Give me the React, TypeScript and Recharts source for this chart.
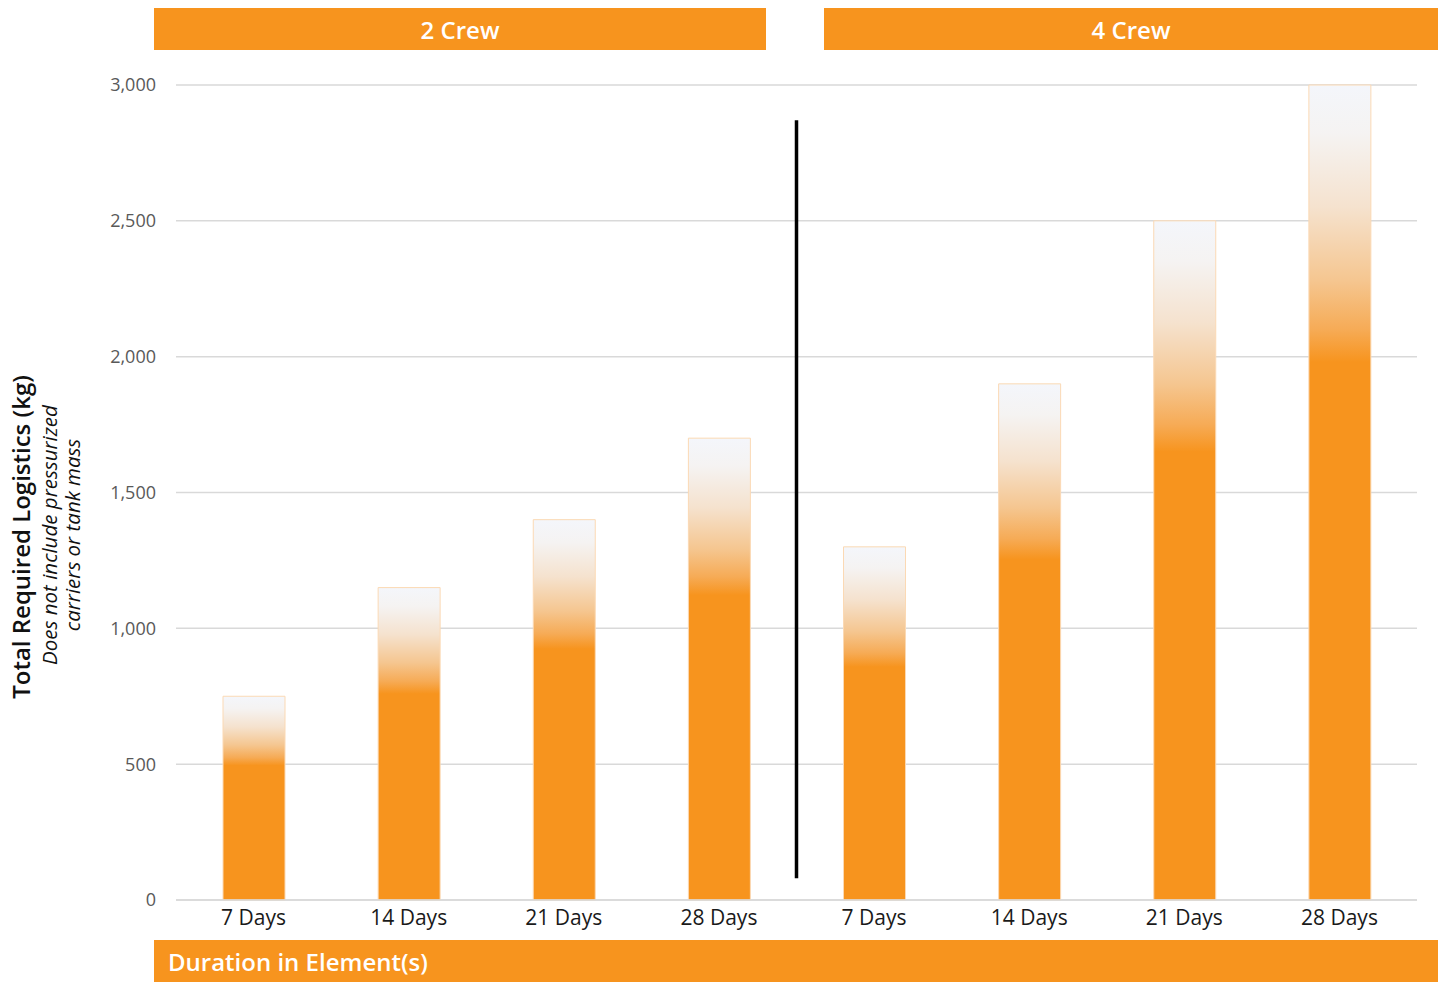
import * as React from "react";
import {
  BarChart,
  Bar,
  XAxis,
  YAxis,
  CartesianGrid,
  ReferenceLine,
} from "recharts";

// 데이터
const dayLabels = ["7 Days", "14 Days", "21 Days", "28 Days"];
const crew2Values = [750, 1150, 1400, 1700];
const crew4Values = [1300, 1900, 2500, 3000];
const yTicks = [0, 500, 1000, 1500, 2000, 2500, 3000];

const ORANGE = "#F7941E";
const FONT = "'Open Sans', 'Noto Sans', sans-serif";

const data = [
  ...dayLabels.map((label, i) => ({ key: `2-${label}`, label, value: crew2Values[i] })),
  ...dayLabels.map((label, i) => ({ key: `4-${label}`, label, value: crew4Values[i] })),
];

const banner: React.CSSProperties = {
  position: "absolute",
  background: ORANGE,
  color: "#fff",
  fontFamily: FONT,
  fontWeight: 600,
  fontSize: 24,
  display: "flex",
  alignItems: "center",
  height: 42,
};

export default function App() {
  return (
    <div style={{ position: "absolute", left: 0, top: 0, width: 1438, height: 982, background: "#fff" }}>
      {/* 상단 배너 */}
      <div style={{ ...banner, left: 154, top: 8, width: 612, justifyContent: "center" }}>2 Crew</div>
      <div style={{ ...banner, left: 824, top: 8, width: 614, justifyContent: "center" }}>4 Crew</div>

      <BarChart
        width={1438}
        height={982}
        data={data}
        margin={{ top: 85, right: 21, bottom: 52, left: 116 }}
      >
        <defs>
          <linearGradient id="barFade" x1="0" y1="0" x2="0" y2="1">
            <stop offset="0%" stopColor="#F4F6FB" />
            <stop offset="6%" stopColor="#F5F3F2" />
            <stop offset="15%" stopColor="#F5E2CE" />
            <stop offset="24%" stopColor="#F5C690" />
            <stop offset="30%" stopColor="#F6AB56" />
            <stop offset="34%" stopColor={ORANGE} />
            <stop offset="100%" stopColor={ORANGE} />
          </linearGradient>
        </defs>
        <CartesianGrid vertical={false} stroke="#D9D9D9" strokeWidth={1.5} />
        <XAxis
          dataKey="key"
          height={30}
          tickFormatter={(k: string) => k.slice(2)}
          axisLine={{ stroke: "#D9D9D9", strokeWidth: 1.5 }}
          tickLine={false}
          tickMargin={4}
          interval={0}
          tick={{ fill: "#1A1A1A", fontSize: 21, fontFamily: FONT }}
        />
        <YAxis
          domain={[0, 3000]}
          ticks={yTicks}
          width={60}
          axisLine={false}
          tickLine={false}
          tickMargin={14}
          tickFormatter={(v: number) => v.toLocaleString("en-US")}
          tick={{ fill: "#595959", fontSize: 18, fontFamily: FONT }}
        />
        {/* 2 Crew / 4 Crew 구분선 */}
        <ReferenceLine
          segment={[
            { x: "4-7 Days", y: 2870 },
            { x: "4-7 Days", y: 80 },
          ]}
          position="start"
          stroke="#000"
          strokeWidth={3.5}
        />
        <Bar
          dataKey="value"
          fill="url(#barFade)"
          stroke="#FBD9B4"
          strokeWidth={1}
          barSize={62}
          isAnimationActive={false}
        />
      </BarChart>

      {/* Y축 제목 */}
      <svg
        width={100}
        height={982}
        style={{ position: "absolute", left: 0, top: 0, pointerEvents: "none" }}
      >
        <g transform="translate(20,537) rotate(-90)">
          <text textAnchor="middle" dominantBaseline="central" fontFamily={FONT} fontWeight={600} fontSize={24} fill="#111">
            Total Required Logistics (kg)
          </text>
        </g>
        <g transform="translate(49,535) rotate(-90)">
          <text textAnchor="middle" dominantBaseline="central" fontFamily={FONT} fontStyle="italic" fontSize={20.5} fill="#111">
            Does not include pressurized
          </text>
        </g>
        <g transform="translate(72,535) rotate(-90)">
          <text textAnchor="middle" dominantBaseline="central" fontFamily={FONT} fontStyle="italic" fontSize={20.5} fill="#111">
            carriers or tank mass
          </text>
        </g>
      </svg>

      {/* 하단 배너 */}
      <div style={{ ...banner, left: 154, top: 940, width: 1284, paddingLeft: 14, boxSizing: "border-box" }}>
        Duration in Element(s)
      </div>
    </div>
  );
}
